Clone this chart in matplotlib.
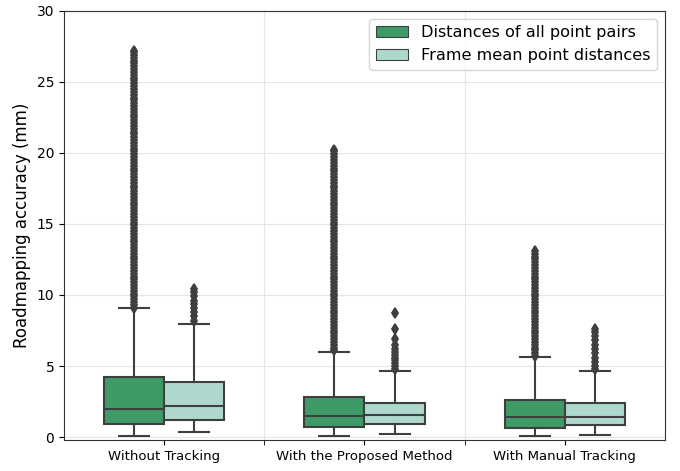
import matplotlib
matplotlib.use("Agg")
import matplotlib.pyplot as plt
from matplotlib.patches import Patch

# groups and series
groups = ["Without Tracking", "With the Proposed Method", "With Manual Tracking"]
series = ["Distances of all point pairs", "Frame mean point distances"]
colors = ["#3e9a67", "#aed8cd"]

# box statistics: [whislo, q1, med, q3, whishi]
pairs_stats = [[0.05, 0.9, 2.0, 4.2, 9.07],
               [0.05, 0.72, 1.5, 2.83, 6.0],
               [0.05, 0.61, 1.38, 2.62, 5.64]]
frame_stats = [[0.33, 1.2, 2.17, 3.87, 7.94],
               [0.19, 0.91, 1.52, 2.41, 4.66],
               [0.16, 0.87, 1.38, 2.37, 4.66]]

# outliers (the pair distances form a dense band)
pairs_fliers = [
    [9.1, 9.3, 9.5, 9.7, 9.9, 10.1, 10.3, 10.5, 10.7, 10.9, 11.1, 11.3, 11.5,
     11.7, 11.9, 12.1, 12.3, 12.5, 12.7, 12.9, 13.1, 13.3, 13.5, 13.7, 13.9,
     14.1, 14.3, 14.5, 14.7, 14.9, 15.1, 15.3, 15.5, 15.7, 15.9, 16.1, 16.3,
     16.5, 16.7, 16.9, 17.1, 17.3, 17.5, 17.7, 17.9, 18.1, 18.3, 18.5, 18.7,
     18.9, 19.1, 19.3, 19.5, 19.7, 19.9, 20.1, 20.3, 20.5, 20.7, 20.9, 21.1,
     21.3, 21.5, 21.7, 21.9, 22.1, 22.3, 22.5, 22.7, 22.9, 23.1, 23.3, 23.5,
     23.7, 23.9, 24.1, 24.3, 24.5, 24.7, 24.9, 25.1, 25.3, 25.5, 25.7, 25.9,
     26.1, 26.3, 26.5, 26.7, 26.9, 27.1, 27.2],
    [6.1, 6.3, 6.5, 6.7, 6.9, 7.1, 7.3, 7.5, 7.7, 7.9, 8.1, 8.3, 8.5, 8.7, 8.9,
     9.1, 9.3, 9.5, 9.7, 9.9, 10.1, 10.3, 10.5, 10.7, 10.9, 11.1, 11.3, 11.5,
     11.7, 11.9, 12.1, 12.3, 12.5, 12.7, 12.9, 13.1, 13.3, 13.5, 13.7, 13.9,
     14.1, 14.3, 14.5, 14.7, 14.9, 15.1, 15.3, 15.5, 15.7, 15.9, 16.1, 16.3,
     16.5, 16.7, 16.9, 17.1, 17.3, 17.5, 17.7, 17.9, 18.1, 18.3, 18.5, 18.7,
     18.9, 19.1, 19.3, 19.5, 19.7, 19.9, 20.1, 20.2],
    [5.7, 5.9, 6.1, 6.3, 6.5, 6.7, 6.9, 7.1, 7.3, 7.5, 7.7, 7.9, 8.1, 8.3, 8.5,
     8.7, 8.9, 9.1, 9.3, 9.5, 9.7, 9.9, 10.1, 10.3, 10.5, 10.7, 10.9, 11.1,
     11.3, 11.5, 11.7, 11.9, 12.1, 12.3, 12.5, 12.7, 12.9, 13.1],
]
frame_fliers = [
    [8.2, 8.5, 8.8, 9.1, 9.4, 9.6, 9.9, 10.2, 10.4],
    [4.8, 5.0, 5.2, 5.4, 5.6, 5.8, 6.0, 6.2, 6.5, 6.9, 7.6, 8.7],
    [4.8, 5.0, 5.3, 5.6, 5.9, 6.2, 6.5, 6.8, 7.1, 7.4, 7.6],
]

line_col = "#3f3f3f"

def make_stats(st, fl):
    out = []
    for s, f in zip(st, fl):
        out.append({"whislo": s[0], "q1": s[1], "med": s[2], "q3": s[3],
                    "whishi": s[4], "fliers": f})
    return out

fig = plt.figure(figsize=(6.8, 4.71), dpi=100)
ax = fig.add_axes([0.094, 0.066, 0.884, 0.911])

lw = 1.5
for k, (st, fl) in enumerate([(pairs_stats, pairs_fliers), (frame_stats, frame_fliers)]):
    pos = [i - 0.15 + 0.3 * k for i in range(len(groups))]
    bp = ax.bxp(make_stats(st, fl), positions=pos, widths=0.3, patch_artist=True,
                boxprops=dict(facecolor=colors[k], edgecolor=line_col, linewidth=lw),
                medianprops=dict(color=line_col, linewidth=lw),
                whiskerprops=dict(color=line_col, linewidth=lw),
                capprops=dict(color=line_col, linewidth=lw),
                flierprops=dict(marker="d", markerfacecolor=line_col,
                                markeredgecolor=line_col, markersize=5.5,
                                markeredgewidth=1.3),
                capwidths=0.15, manage_ticks=False)
    for b in bp["boxes"]:
        b.set_zorder(2)

ax.set_xlim(-0.5, 2.5)
ax.set_ylim(-0.2, 30)
ax.set_xticks(range(len(groups)))
ax.set_xticklabels(groups, fontsize=9.5)
ax.set_xticks([0.5, 1.5], minor=True)
ax.tick_params(axis="x", which="minor", length=3.5)
ax.tick_params(axis="y", labelsize=10)
ax.set_yticks([0, 5, 10, 15, 20, 25, 30])
ax.set_ylabel("Roadmapping accuracy (mm)", fontsize=12)
ax.grid(True, axis="y", color="#e6e6e6", linewidth=0.8)
ax.grid(True, axis="x", which="minor", color="#e6e6e6", linewidth=0.8)
ax.set_axisbelow(True)
for sp in ax.spines.values():
    sp.set_color("#333333")

handles = [Patch(facecolor=colors[k], edgecolor=line_col, linewidth=0.8, label=series[k])
           for k in range(2)]
ax.legend(handles=handles, loc="upper right", fontsize=11.6, framealpha=0.8)

fig.savefig("out.png", dpi=100)
